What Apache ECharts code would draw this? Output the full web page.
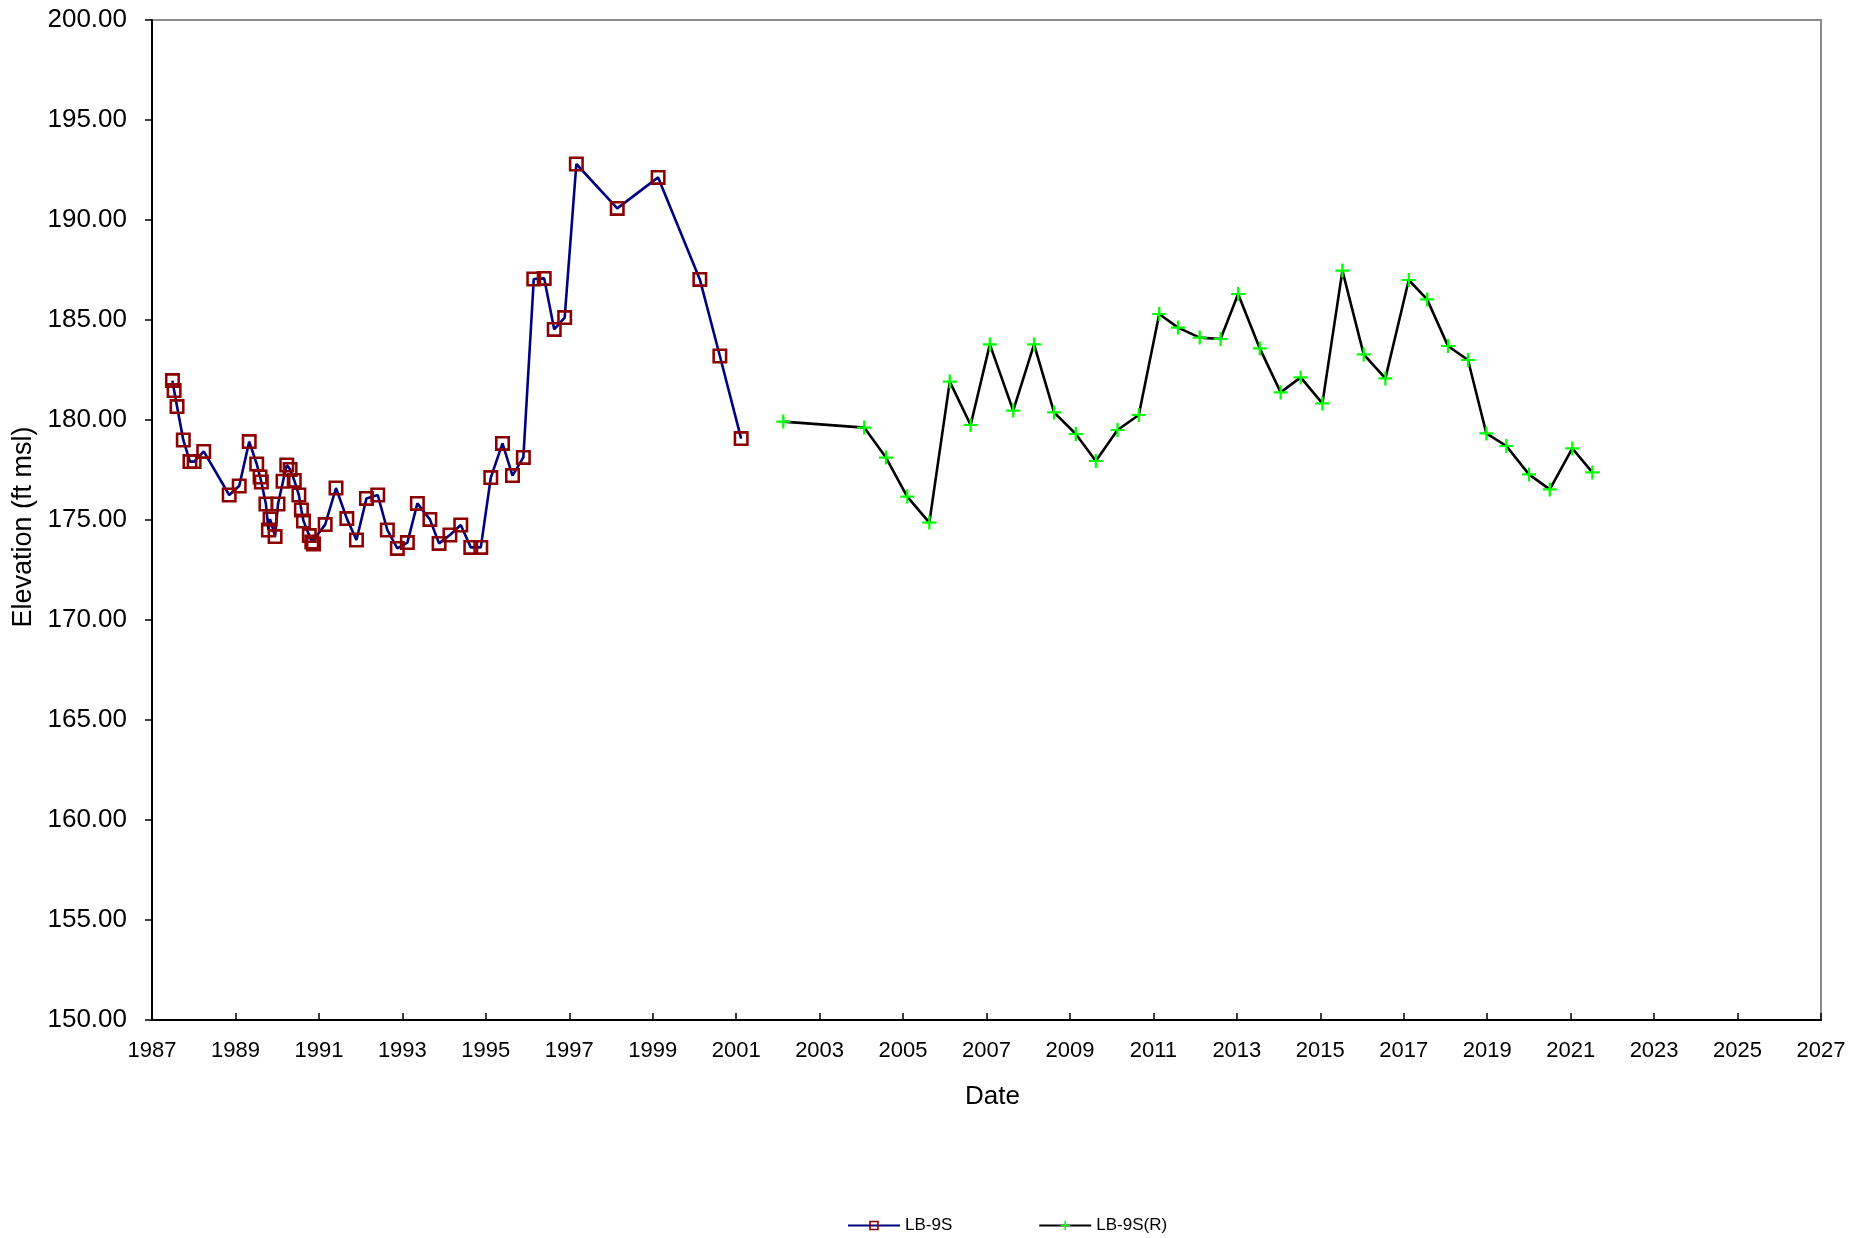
<!DOCTYPE html>
<html>
<head>
<meta charset="utf-8">
<title>LB-9S Elevation</title>
<script src="https://cdn.jsdelivr.net/npm/echarts@6/dist/echarts.min.js"></script>
<style>
  html, body { margin: 0; padding: 0; background: #ffffff; }
  #chart { width: 1868px; height: 1238px; }
</style>
</head>
<body>
<div id="chart"></div>
<script>
// Sample dates as decimal years, elevations in ft msl
const lb9sDates = [
  1987.49, 1987.53, 1987.60, 1987.75, 1987.91, 1988.01, 1988.24, 1988.85, 1989.09, 1989.33,
  1989.51, 1989.59, 1989.62, 1989.73, 1989.79, 1989.83, 1989.95, 1990.02, 1990.14, 1990.23,
  1990.31, 1990.41, 1990.52, 1990.58, 1990.63, 1990.77, 1990.83, 1990.87, 1991.15, 1991.41,
  1991.67, 1991.90, 1992.14, 1992.41, 1992.64, 1992.88, 1993.12, 1993.36, 1993.66, 1993.88,
  1994.14, 1994.40, 1994.64, 1994.88, 1995.12, 1995.40, 1995.64, 1995.90, 1996.15, 1996.40,
  1996.64, 1996.89, 1997.17, 1998.15, 1999.13, 2000.13, 2000.61, 2001.12
];
const lb9sValues = [
  181.97, 181.47, 180.67, 179.00, 177.92, 177.92, 178.43, 176.25, 176.70, 178.92,
  177.80, 177.15, 176.90, 175.80, 174.50, 175.05, 174.17, 175.80, 176.94, 177.75,
  177.53, 176.98, 176.25, 175.50, 174.95, 174.22, 173.90, 173.80, 174.77, 176.60,
  175.07, 174.00, 176.08, 176.25, 174.50, 173.58, 173.87, 175.83, 175.03, 173.83,
  174.25, 174.75, 173.63, 173.63, 177.12, 178.83, 177.22, 178.13, 187.05, 187.08,
  184.53, 185.12, 192.80, 190.58, 192.13, 187.03, 183.20, 179.07
];

const lb9sRDates = [
  2002.13, 2004.07, 2004.59, 2005.10, 2005.63, 2006.12, 2006.62, 2007.08, 2007.64, 2008.14,
  2008.62, 2009.14, 2009.62, 2010.14, 2010.65, 2011.14, 2011.59, 2012.11, 2012.61, 2013.03,
  2013.55, 2014.05, 2014.53, 2015.05, 2015.53, 2016.04, 2016.56, 2017.12, 2017.56, 2018.06,
  2018.54, 2018.98, 2019.46, 2020.00, 2020.50, 2021.04, 2021.52
];
const lb9sRValues = [
  179.92, 179.62, 178.12, 176.17, 174.87, 181.92, 179.75, 183.78, 180.47, 183.78,
  180.38, 179.30, 177.95, 179.50, 180.25, 185.30, 184.62, 184.12, 184.05, 186.30,
  183.58, 181.38, 182.13, 180.83, 187.47, 183.28, 182.08, 187.00, 186.03, 183.70,
  183.00, 179.33, 178.70, 177.28, 176.53, 178.58, 177.38
];

const seriesNames = ['LB-9S', 'LB-9S(R)'];

const pairs = (xs, ys) => xs.map((x, i) => [x, ys[i]]);

// hollow square and plus-sign marker outlines
const hollowSquare = 'path://M0,0H10V10H0Z M1.7,1.7V8.3H8.3V1.7Z';
const plusSign = 'path://M4.2,0H5.8V4.2H10V5.8H5.8V10H4.2V5.8H0V4.2H4.2Z';

const chart = echarts.init(document.getElementById('chart'), null, { renderer: 'canvas' });

chart.setOption({
  backgroundColor: '#ffffff',
  animation: false,
  textStyle: { fontFamily: 'Liberation Sans, Arial, sans-serif' },
  grid: {
    left: 152, right: 47, top: 20, bottom: 218,
    show: true, borderColor: '#8c8c8c', borderWidth: 2, backgroundColor: 'transparent'
  },
  legend: {
    data: seriesNames,
    left: 842, top: 1212,
    itemWidth: 52, itemHeight: 12, itemGap: 86,
    textStyle: { fontSize: 17, color: '#000000', fontFamily: 'Liberation Sans, Arial, sans-serif' }
  },
  xAxis: {
    type: 'value',
    min: 1987, max: 2027, interval: 2,
    name: 'Date', nameLocation: 'middle', nameGap: 64,
    nameTextStyle: { fontSize: 26, color: '#000000', padding: [0, 0, 0, 12] },
    axisLine: { show: true, onZero: false, lineStyle: { color: '#000000', width: 2 } },
    axisTick: { show: true, inside: true, length: 7, lineStyle: { color: '#000000', width: 1.5 } },
    axisLabel: { fontSize: 22, color: '#000000', margin: 20, formatter: v => String(Math.round(v)) },
    splitLine: { show: false }
  },
  yAxis: {
    type: 'value',
    min: 150, max: 200, interval: 5,
    name: 'Elevation (ft msl)', nameLocation: 'middle', nameGap: 112, nameRotate: 90,
    nameTextStyle: { fontSize: 27, color: '#000000', padding: [0, 14, 0, 0] },
    axisLine: { show: true, onZero: false, lineStyle: { color: '#000000', width: 2 } },
    axisTick: { show: true, inside: false, length: 7, lineStyle: { color: '#000000', width: 1.5 } },
    axisLabel: { fontSize: 26, color: '#000000', margin: 25, formatter: v => v.toFixed(2) },
    splitLine: { show: false }
  },
  series: [
    {
      name: seriesNames[0],
      type: 'line',
      data: pairs(lb9sDates, lb9sValues),
      symbol: hollowSquare,
      symbolSize: 15,
      showAllSymbol: true,
      lineStyle: { color: '#000080', width: 2.6 },
      itemStyle: { color: '#8b0000' },
      emphasis: { disabled: true }
    },
    {
      name: seriesNames[1],
      type: 'line',
      data: pairs(lb9sRDates, lb9sRValues),
      symbol: plusSign,
      symbolSize: 14,
      showAllSymbol: true,
      lineStyle: { color: '#000000', width: 2.6 },
      itemStyle: { color: '#00ff00' },
      emphasis: { disabled: true }
    }
  ]
});
</script>
</body>
</html>
